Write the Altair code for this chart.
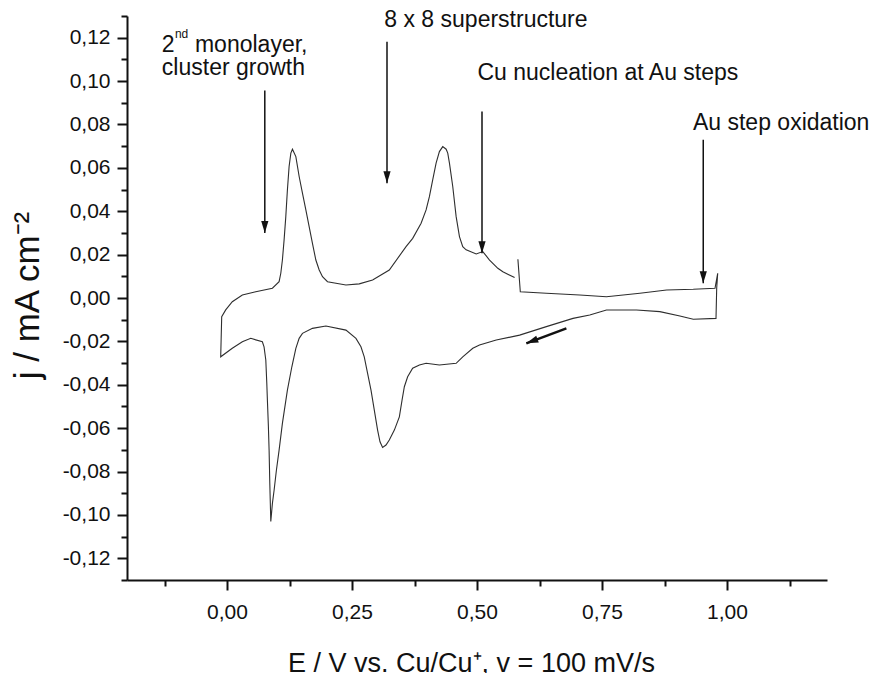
import altair as alt
import pandas as pd

# ---- cyclic voltammogram, drawn as one path (gap at E ~ 0.58 V) ----
# upper flat part, reversal at ~0.98 V and start of the cathodic sweep
E_rev = [0.5818, 0.5866, 0.6387, 0.7054, 0.7589, 0.8257, 0.8792, 0.9325, 0.9760, 0.9814,
         0.9794, 0.9780, 0.9325, 0.9058, 0.8657, 0.8190, 0.7589, 0.7255, 0.6920, 0.6387,
         0.5852, 0.5385, 0.5050, 0.4916, 0.4715, 0.4583, 0.4248, 0.3982]
j_rev = [0.0179, 0.0029, 0.0022, 0.0014, 0.0006, 0.0022, 0.0037, 0.0040, 0.0045, 0.0114,
         0.0046, -0.0094, -0.0098, -0.0083, -0.0063, -0.0055, -0.0055, -0.0078, -0.0094, -0.0132,
         -0.0171, -0.0194, -0.0217, -0.0232, -0.0271, -0.0301, -0.0309, -0.0301]
# cathodic sweep with the two deposition peaks
E_cat = [0.3848, 0.3713, 0.3613, 0.3547, 0.3501, 0.3447, 0.3347, 0.3246, 0.3180, 0.3112,
         0.3060, 0.3012, 0.2946, 0.2880, 0.2812, 0.2745, 0.2679, 0.2579, 0.2379, 0.1978,
         0.1709, 0.1509, 0.1443, 0.1377, 0.1297, 0.1208, 0.1108, 0.1042, 0.0988, 0.0942,
         0.0908, 0.0876, 0.0856, 0.0842, 0.0828, 0.0808, 0.0796, 0.0776, 0.0741, 0.0707,
         0.0475, 0.0307, 0.0106, -0.0126]
j_cat = [-0.0309, -0.0324, -0.0363, -0.0409, -0.0471, -0.0548, -0.0609, -0.0655, -0.0678, -0.0689,
         -0.0663, -0.0609, -0.0517, -0.0425, -0.0347, -0.0271, -0.0225, -0.0186, -0.0148, -0.0129,
         -0.0140, -0.0163, -0.0186, -0.0232, -0.0317, -0.0425, -0.0578, -0.0701, -0.0794, -0.0886,
         -0.0947, -0.1030, -0.0855, -0.0701, -0.0594, -0.0471, -0.0394, -0.0286, -0.0225, -0.0202,
         -0.0186, -0.0202, -0.0232, -0.0271]
# anodic sweep with the two stripping peaks
E_ano = [-0.0106, -0.0026, 0.0106, 0.0307, 0.0575, 0.0908, 0.1042, 0.1076, 0.1108, 0.1142,
         0.1176, 0.1208, 0.1242, 0.1277, 0.1309, 0.1377, 0.1443, 0.1509, 0.1577, 0.1643,
         0.1709, 0.1777, 0.1844, 0.1910, 0.2010, 0.2379, 0.2645, 0.2912, 0.3246, 0.3581,
         0.3714, 0.3882, 0.3982, 0.4048, 0.4114, 0.4182, 0.4248, 0.4315, 0.4383, 0.4415,
         0.4449, 0.4515, 0.4583, 0.4649, 0.4715, 0.4783, 0.4984, 0.5116, 0.5251, 0.5417,
         0.5517, 0.5752]
j_ano = [-0.0086, -0.0055, -0.0017, 0.0014, 0.0029, 0.0045, 0.0075, 0.0114, 0.0175, 0.0268,
         0.0375, 0.0498, 0.0606, 0.0668, 0.0686, 0.0652, 0.0560, 0.0483, 0.0406, 0.0329,
         0.0252, 0.0175, 0.0129, 0.0098, 0.0075, 0.0060, 0.0065, 0.0083, 0.0129, 0.0237,
         0.0275, 0.0345, 0.0406, 0.0467, 0.0545, 0.0622, 0.0675, 0.0698, 0.0686, 0.0668,
         0.0622, 0.0514, 0.0375, 0.0283, 0.0237, 0.0222, 0.0203, 0.0214, 0.0175, 0.0137,
         0.0121, 0.0094]

# ---- axis ticks ----
x_major = [0.0, 0.25, 0.5, 0.75, 1.0]
x_minor = [-0.125, 0.125, 0.375, 0.625, 0.875, 1.125]
y_major = [-0.12, -0.10, -0.08, -0.06, -0.04, -0.02, 0.0, 0.02, 0.04, 0.06, 0.08, 0.10, 0.12]
y_minor = [-0.13, -0.11, -0.09, -0.07, -0.05, -0.03, -0.01, 0.01, 0.03, 0.05, 0.07, 0.09, 0.11, 0.13]

# ---- annotations ----
ann_text = ["2", "nd", "monolayer,", "cluster growth", "8 x 8 superstructure",
            "Cu nucleation at Au steps", "Au step oxidation"]
ann_E = [-0.1303, -0.1042, -0.0641, -0.1303, 0.3146, 0.5010, 0.9319]
ann_j = [0.1135, 0.1200, 0.1135, 0.1029, 0.1251, 0.1006, 0.0775]
ann_size = [23, 12, 23, 23, 23, 23, 23]

arrow_E = [0.0756, 0.3200, 0.5100, 0.9525]
arrow_top = [0.0957, 0.1181, 0.0860, 0.0729]
arrow_tip = [0.0300, 0.0529, 0.0206, 0.0068]

sweep_E = [0.6788, 0.5986]   # tail, head
sweep_j = [-0.0140, -0.0209]

FONT = "Liberation Sans"
INK = "#111111"
HEAD = "M0,0L-0.6,-2L0.6,-2Z"
LBL = "replace(replace(format(datum.value, '.2f'), '.', ','), '\u2212', '-')"

E = E_rev + E_cat + E_ano
j = j_rev + j_cat + j_ano
cv = pd.DataFrame({"E": E, "j": j, "i": list(range(len(E)))})
ann = pd.DataFrame({"E": ann_E, "j": ann_j, "t": ann_text, "s": ann_size})
arr = pd.DataFrame({"E": arrow_E, "top": arrow_top, "tip": arrow_tip})
sw = pd.DataFrame({"x": [sweep_E[0]], "x2": [sweep_E[1]], "y": [sweep_j[0]], "y2": [sweep_j[1]]})

xs = alt.Scale(domain=[-0.2, 1.2], nice=False, zero=False)
ys = alt.Scale(domain=[-0.13, 0.13], nice=False, zero=False)

curve = alt.Chart(cv).mark_line(color="#2e2e2e", strokeWidth=1.1).encode(
    x=alt.X("E:Q", scale=xs, axis=alt.Axis(
        values=x_major, tickSize=10, labelPadding=11, labelExpr=LBL,
        title="E / V vs. Cu/Cu\u207a, v = 100 mV/s", titleFontSize=27,
        titleX=344, titleY=91, titleAlign="center", titleBaseline="alphabetic",
        orient="bottom")),
    y=alt.Y("j:Q", scale=ys, axis=alt.Axis(
        values=y_major, tickSize=10, labelPadding=7, labelExpr=LBL,
        title="j / mA cm\u207b\u00b2", titleFontSize=35, titleAngle=270,
        titleX=-89, titleY=279, titleAlign="center", titleBaseline="alphabetic",
        orient="left")),
    order="i:Q",
)

minor = alt.Chart(cv).mark_line(opacity=0).encode(
    x=alt.X("E:Q", scale=xs, axis=alt.Axis(values=x_minor, tickSize=6, labels=False,
                                            domain=False, title=None, orient="bottom")),
    y=alt.Y("j:Q", scale=ys, axis=alt.Axis(values=y_minor, tickSize=6, labels=False,
                                            domain=False, title=None, orient="left")),
)

texts = alt.Chart(ann).mark_text(align="left", baseline="alphabetic", font=FONT, color=INK).encode(
    x=alt.X("E:Q", scale=xs, axis=None),
    y=alt.Y("j:Q", scale=ys, axis=None),
    text="t:N",
    size=alt.Size("s:Q", scale=None, legend=None),
)

rules = alt.Chart(arr).mark_rule(color=INK, strokeWidth=1.5).encode(
    x=alt.X("E:Q", scale=xs, axis=None),
    y=alt.Y("top:Q", scale=ys, axis=None),
    y2="tip:Q",
)
heads = alt.Chart(arr).mark_point(shape=HEAD, filled=True, size=144, color=INK, opacity=1).encode(
    x=alt.X("E:Q", scale=xs, axis=None),
    y=alt.Y("tip:Q", scale=ys, axis=None),
)

sweep_line = alt.Chart(sw).mark_rule(color=INK, strokeWidth=2.5).encode(
    x=alt.X("x:Q", scale=xs, axis=None), x2="x2:Q",
    y=alt.Y("y:Q", scale=ys, axis=None), y2="y2:Q",
)
sweep_head = alt.Chart(sw).mark_point(shape=HEAD, filled=True, size=144, color=INK, opacity=1, angle=69).encode(
    x=alt.X("x2:Q", scale=xs, axis=None),
    y=alt.Y("y2:Q", scale=ys, axis=None),
)

chart = alt.layer(curve, minor, texts, rules, heads, sweep_line, sweep_head).resolve_axis(
    x="independent", y="independent"
).properties(
    width=700, height=564,
    autosize=alt.AutoSizeParams(type="none"),
    padding={"left": 119, "top": 8, "right": 46, "bottom": 93},
).configure_axis(
    labelFont=FONT, labelFontSize=21, labelColor=INK,
    titleFont=FONT, titleColor=INK, titleFontWeight="normal",
    tickColor=INK, domainColor=INK, domainWidth=2, tickWidth=2, grid=False,
).configure_view(stroke=None)

chart.save("out.html", embed_options={"renderer": "svg", "actions": False})
